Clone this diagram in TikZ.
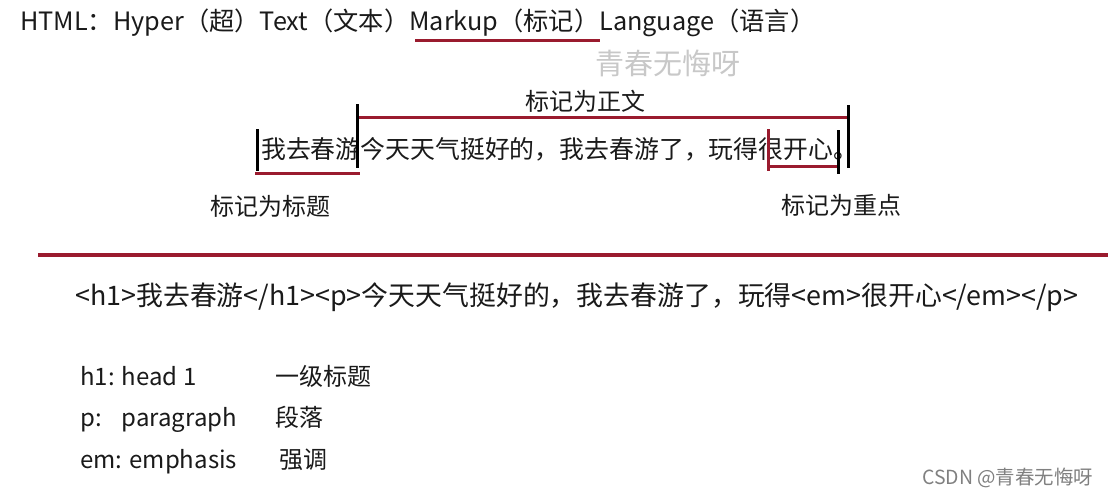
\documentclass[tikz,border=0pt]{standalone}
\usepackage{fontspec}
\setmainfont{Noto Sans CJK SC}
\definecolor{mred}{HTML}{9A1B2E}
\definecolor{mgray}{HTML}{C8C8C8}
\definecolor{ink}{HTML}{1A1A1A}
\begin{document}
\begin{tikzpicture}[x=1pt,y=-1pt,
  txt/.style={anchor=base west,inner sep=0pt,text=ink,font=\fontsize{24}{28}\selectfont},
  redln/.style={draw=mred,line width=3pt},
  blkln/.style={draw=black,line width=3pt}]
\useasboundingbox[fill=white] (0,0) rectangle (1108,498);
% title line
\node[txt] (title) at (20,30) {\resizebox{795pt}{!}{HTML：Hyper（超）Text（文本）Markup（标记）Language（语言）}};
\coordinate (mu1) at (415,40);
\coordinate (mu2) at (600,40);
\draw[redln] (mu1) -- (mu2);
\node[txt,text=mgray,font=\fontsize{29}{32}\selectfont] (wm) at (595,74) {青春无悔呀};
% sentence
\node[txt,font=\fontsize{25}{28}\selectfont] (sent) at (261,158) {\resizebox{597pt}{!}{我去春游今天天气挺好的，我去春游了，玩得很开心。}};
\node[txt] (lbbody) at (525,110) {标记为正文};
\node[txt] (lbh) at (210,215) {标记为标题};
\node[txt] (lbem) at (781,214) {标记为重点};
% body bracket
\coordinate (b1t) at (357,104);
\coordinate (b1b) at (357,168);
\coordinate (b2t) at (848,105);
\coordinate (b2b) at (848,168);
\coordinate (bl1) at (357,117);
\coordinate (bl2) at (848,117);
\draw[redln] (bl1) -- (bl2);
\draw[blkln] (b1t) -- (b1b);
\draw[blkln] (b2t) -- (b2b);
% heading bracket
\coordinate (h1t) at (257,129);
\coordinate (h1b) at (257,171);
\coordinate (hl1) at (255,173);
\coordinate (hl2) at (360,173);
\draw[redln] (hl1) -- (hl2);
\draw[blkln] (h1t) -- (h1b);
% emphasis bracket
\coordinate (e1t) at (768,129);
\coordinate (e1b) at (768,171);
\coordinate (el1) at (768,166);
\coordinate (el2) at (838,166);
\coordinate (e2t) at (838,130);
\coordinate (e2b) at (838,174);
\draw[redln] (e1t) -- (e1b);
\draw[redln] (el1) -- (el2);
\draw[blkln] (e2t) -- (e2b);
% divider
\coordinate (d1) at (38,255);
\coordinate (d2) at (1108,255);
\draw[draw=mred,line width=3.5pt] (d1) -- (d2);
% code line
\node[txt,font=\fontsize{22}{26}\selectfont] (code) at (75,305) {\resizebox{1003pt}{!}{<h1>我去春游</h1><p>今天天气挺好的，我去春游了，玩得<em>很开心</em></p>}};
% list
\node[txt] (l1a) at (80,385) {h1: head 1};
\node[txt] (l1b) at (275,385) {一级标题};
\node[txt] (l2a) at (80,426) {p:\hspace{20pt}paragraph};
\node[txt] (l2b) at (275,426) {段落};
\node[txt] (l3a) at (80,468) {em: emphasis};
\node[txt] (l3b) at (279,468) {强调};
\node[txt,text=gray,font=\fontsize{18}{20}\selectfont] (csdn) at (922,484) {\resizebox{171pt}{!}{CSDN @青春无悔呀}};
\end{tikzpicture}
\end{document}
